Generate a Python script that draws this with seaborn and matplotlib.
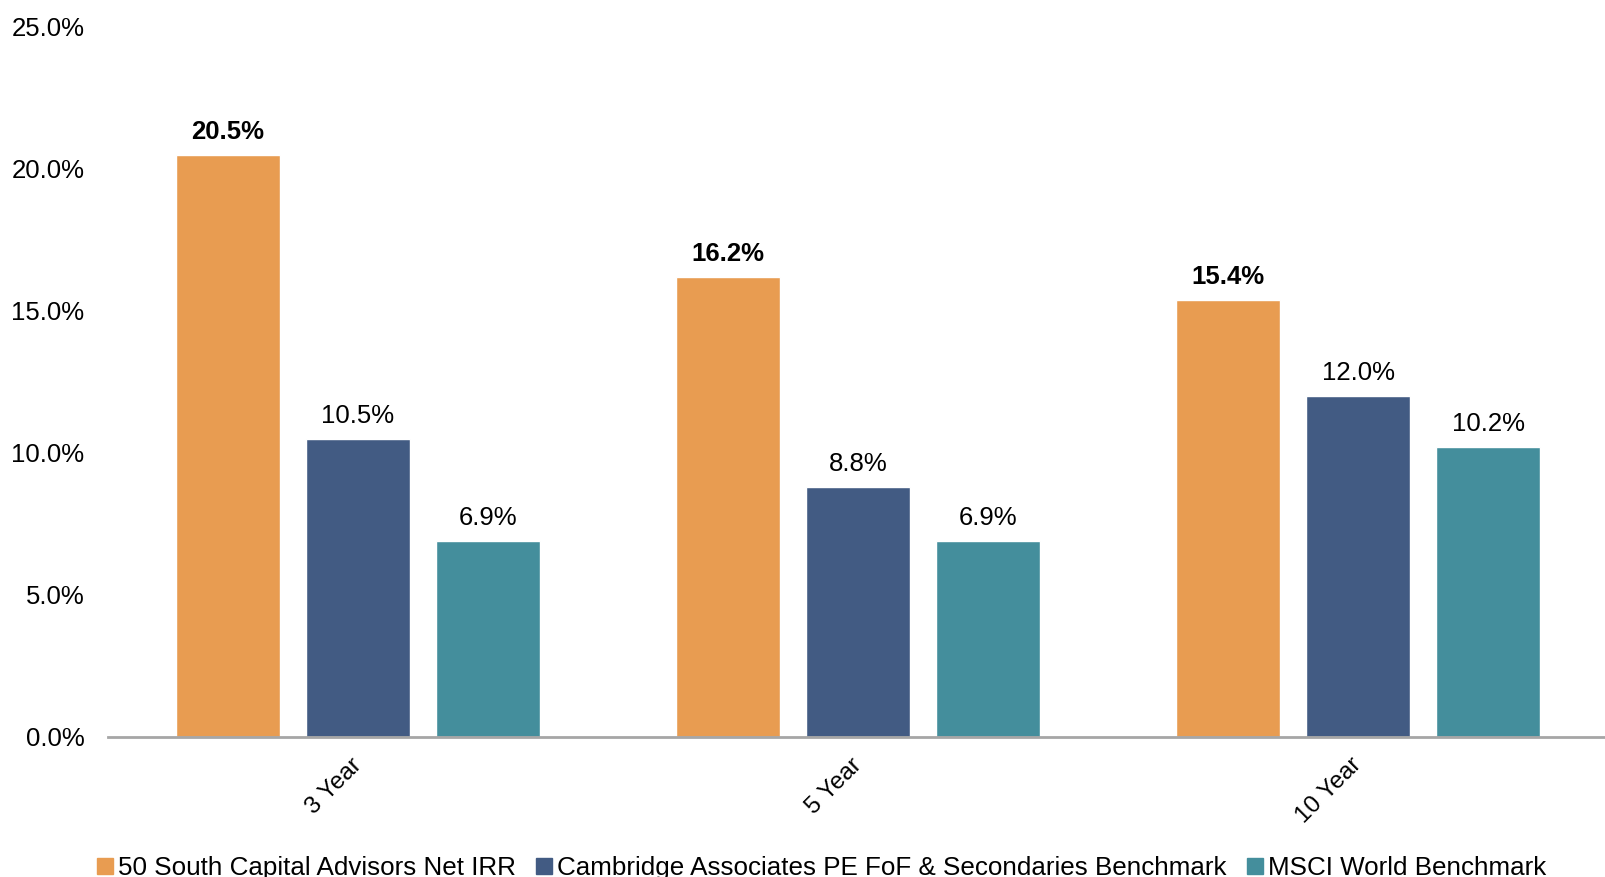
import matplotlib
matplotlib.use("Agg")
import matplotlib.pyplot as plt
import seaborn as sns
import pandas as pd
from matplotlib.lines import Line2D

periods = ["3 Year", "5 Year", "10 Year"]
series = ["50 South Capital Advisors Net IRR",
          "Cambridge Associates PE FoF & Secondaries Benchmark",
          "MSCI World Benchmark"]
fifty_south = [20.5, 16.2, 15.4]
cambridge = [10.5, 8.8, 12.0]
msci = [6.9, 6.9, 10.2]
colors = ["#E89C51", "#425B83", "#448E9C"]
yticks = [0, 5, 10, 15, 20, 25]

rows = []
for name, vals in zip(series, [fifty_south, cambridge, msci]):
    for p, v in zip(periods, vals):
        rows.append({"period": p, "series": name, "value": v})
df = pd.DataFrame(rows)

sns.set_theme(style="white")
plt.rcParams["font.family"] = ["Liberation Sans", "DejaVu Sans"]
plt.rcParams["text.color"] = "black"
plt.rcParams["xtick.color"] = "black"
plt.rcParams["ytick.color"] = "black"

fig = plt.figure(figsize=(16.05, 8.77), dpi=100)
ax = fig.add_axes([108/1605, 1-737/877, 1500/1605, 710/877])

sns.barplot(data=df, x="period", y="value", hue="series", order=periods,
            hue_order=series, palette=colors, width=0.78, gap=0.2,
            saturation=1, ax=ax, legend=False)

for i, cont in enumerate(ax.containers):
    ax.bar_label(cont, labels=[f"{v:.1f}%" for v in cont.datavalues],
                 padding=8, fontsize=18.5,
                 fontweight="bold" if i == 0 else "normal", color="black")

ax.set_ylim(0, 25)
ax.set_xlim(-0.5, 2.5)
ax.set_yticks(yticks)
ax.set_yticklabels([f"{t:.1f}%" for t in yticks], fontsize=18.5, color="black")
ax.tick_params(axis="y", length=0, pad=17)
ax.tick_params(axis="x", length=0, pad=18)
for lab in ax.get_xticklabels():
    lab.set_rotation(45)
    lab.set_ha("right")
    lab.set_va("center")
    lab.set_rotation_mode("anchor")
    lab.set_fontsize(17.5)
    lab.set_color("black")
ax.set_xlabel("")
ax.set_ylabel("")
for s in ["top", "right", "left"]:
    ax.spines[s].set_visible(False)
ax.spines["bottom"].set_color("#A6A6A6")
ax.spines["bottom"].set_linewidth(2)
ax.grid(False)

handles = [Line2D([0], [0], marker="s", linestyle="", markersize=11,
                  markerfacecolor=c, markeredgecolor=c) for c in colors]
leg = fig.legend(handles, series, loc="lower center", bbox_to_anchor=(0.512, -0.03),
                 ncol=3, frameon=False, fontsize=18.7, handlelength=0.6,
                 handletextpad=0.2, columnspacing=0.8)
for t in leg.get_texts():
    t.set_color("black")

fig.savefig("out.png", dpi=100)
